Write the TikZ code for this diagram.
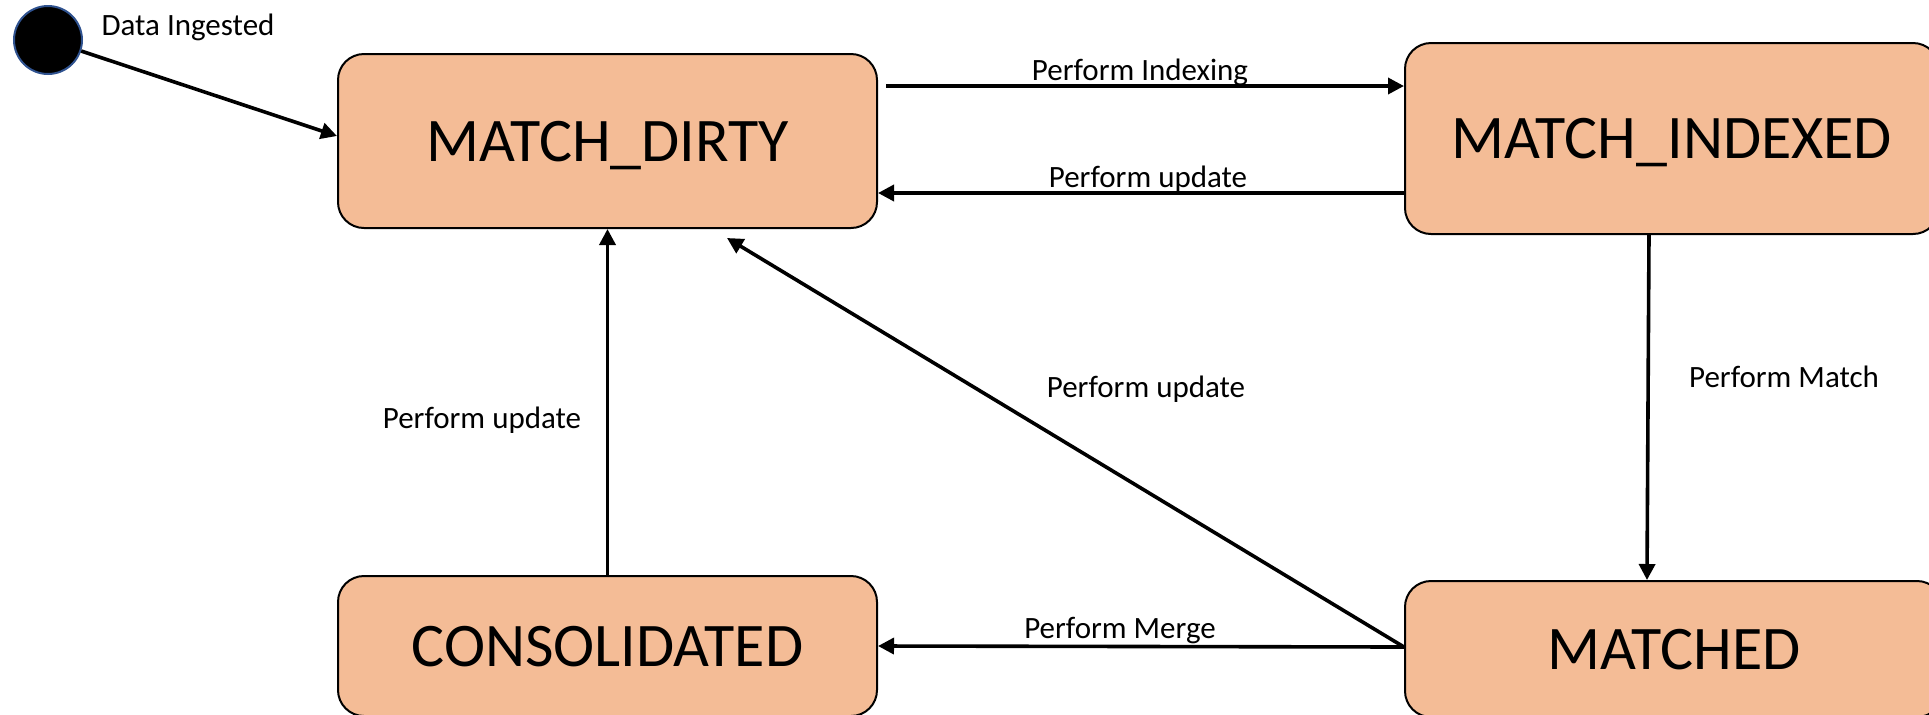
\documentclass[tikz,border=0pt]{standalone}
\usepackage{fontspec}
\setmainfont{Carlito}
\usetikzlibrary{arrows.meta,shapes.misc}
\definecolor{statefill}{HTML}{F4BC96}
\definecolor{startblue}{HTML}{2F528F}
\tikzset{
  statebox/.style={draw=black, fill=statefill, line width=1pt, rounded corners=13pt,
    inner sep=0pt, text height=20pt, text depth=0pt,
    font=\fontsize{31pt}{36pt}\selectfont},
  lbl/.style={inner sep=0pt, anchor=base, font=\fontsize{15.5pt}{18pt}\selectfont},
  arr/.style={line width=1.8pt, -{Triangle[length=8pt,width=8pt]}},
}
\begin{document}
\begin{tikzpicture}[x=0.5pt,y=-0.5pt]
  \useasboundingbox (0,0) rectangle (1929,714);
  \clip (0,0) rectangle (1929,714);

  % initial pseudo-state
  \node[circle, fill=black, draw=startblue, line width=1pt, minimum size=34pt, inner sep=0pt]
    (start) at (48,40) {};
  \node[lbl] (ingested) at (188,35) {Data Ingested};

  % states
  \node[statebox, minimum width=269.5pt, minimum height=87pt] (dirty) at (607.5,141) {MATCH\_DIRTY};
  \node[statebox, minimum width=267pt, minimum height=95.5pt] (indexed) at (1672,138.5) {MATCH\_INDEXED};
  \node[statebox, minimum width=269.5pt, minimum height=70pt] (consolidated) at (607.5,646) {CONSOLIDATED};
  \node[statebox, minimum width=269pt, minimum height=68pt] (matched) at (1674,649) {MATCHED};

  \coordinate (dtip) at (727,238);

  % transitions
  \draw[arr] (start) -- ([yshift=2.5pt]dirty.west);
  \draw[arr] ([xshift=4pt,yshift=27.5pt]dirty.east) -- ([yshift=26.25pt]indexed.west);
  \draw[arr] ([yshift=-27.25pt]indexed.west) -- ([yshift=-26pt]dirty.east);
  \draw[arr] ([xshift=-11.5pt]indexed.south) -- ([xshift=-13.5pt]matched.north);
  \draw[arr] ([yshift=1pt]matched.west) -- (consolidated.east);
  \draw[arr] ([yshift=1pt]matched.west) -- (dtip);
  \draw[arr] (consolidated.north) -- (dirty.south);

  % transition labels
  \node[lbl] (lindex) at (1140,80) {Perform Indexing};
  \node[lbl] (lupdtop) at (1148,187) {Perform update};
  \node[lbl] (lmatch) at (1784,387) {Perform Match};
  \node[lbl] (lupddiag) at (1146,397) {Perform update};
  \node[lbl] (lupdleft) at (482,428) {Perform update};
  \node[lbl] (lmerge) at (1120,638) {Perform Merge};
\end{tikzpicture}
\end{document}
